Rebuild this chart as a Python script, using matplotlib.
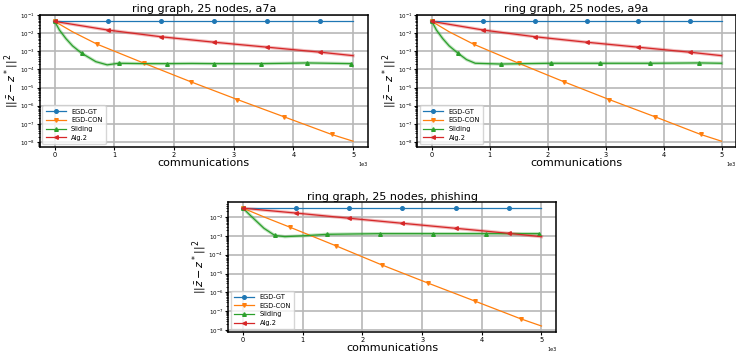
import matplotlib
matplotlib.use("Agg")
import matplotlib.pyplot as plt
import numpy as np

# ---- data (communications, error) ----
labels = ["EGD-GT", "EGD-CON", "Sliding", "Alg.2"]
titles = ["ring graph, 25 nodes, a7a", "ring graph, 25 nodes, a9a", "ring graph, 25 nodes, phishing"]

# a7a
a7a_gt_x = [0, 890, 1780, 2670, 3560, 4450, 5000]
a7a_gt_y = [4.5e-2, 4.5e-2, 4.5e-2, 4.5e-2, 4.5e-2, 4.5e-2, 4.5e-2]
a7a_con_x = [0, 300, 710, 1500, 2280, 3060, 3850, 4640, 5000]
a7a_con_y = [4.5e-2, 1.2e-2, 2.5e-3, 2.2e-4, 2.1e-5, 2.2e-6, 2.4e-7, 2.6e-8, 1.1e-8]
a7a_sl_x = [0, 80, 190, 300, 450, 690, 880, 1070, 1500, 1880, 2300, 2670, 3100, 3450, 3900, 4220, 4600, 4970]
a7a_sl_y = [4.5e-2, 1.5e-2, 5e-3, 2e-3, 8e-4, 2.7e-4, 1.8e-4, 2.2e-4, 2.1e-4, 2.1e-4, 2.15e-4, 2.1e-4,
            2.1e-4, 2.1e-4, 2.2e-4, 2.3e-4, 2.2e-4, 2.1e-4]
a7a_alg_x = [0, 890, 1780, 2670, 3560, 4450, 5000]
a7a_alg_y = [4.5e-2, 1.5e-2, 6.4e-3, 3.2e-3, 1.7e-3, 9e-4, 5.8e-4]

# a9a
a9a_gt_x = [0, 890, 1780, 2670, 3560, 4450, 5000]
a9a_gt_y = [4.5e-2, 4.5e-2, 4.5e-2, 4.5e-2, 4.5e-2, 4.5e-2, 4.5e-2]
a9a_con_x = [0, 300, 720, 1500, 2280, 3060, 3860, 4640, 5000]
a9a_con_y = [4.5e-2, 1.2e-2, 2.5e-3, 2.2e-4, 2.1e-5, 2.2e-6, 2.4e-7, 2.6e-8, 1.1e-8]
a9a_sl_x = [0, 80, 190, 300, 450, 600, 750, 1190, 1600, 2050, 2500, 2900, 3300, 3760, 4200, 4620, 5000]
a9a_sl_y = [4.5e-2, 1.5e-2, 5e-3, 2e-3, 8e-4, 3.5e-4, 2.2e-4, 2e-4, 2.1e-4, 2.2e-4, 2.2e-4, 2.2e-4,
            2.2e-4, 2.2e-4, 2.25e-4, 2.3e-4, 2.2e-4]
a9a_alg_x = [0, 890, 1780, 2670, 3560, 4450, 5000]
a9a_alg_y = [4.5e-2, 1.5e-2, 6.4e-3, 3.2e-3, 1.7e-3, 9e-4, 5.8e-4]

# phishing
ph_gt_x = [0, 890, 1780, 2670, 3560, 4450, 5000]
ph_gt_y = [2.9e-2, 2.9e-2, 2.9e-2, 2.9e-2, 2.9e-2, 2.9e-2, 2.9e-2]
ph_con_x = [0, 350, 780, 1550, 2320, 3100, 3880, 4650, 5000]
ph_con_y = [2.9e-2, 1.0e-2, 2.9e-3, 3e-4, 2.9e-5, 3.1e-6, 3.5e-7, 4e-8, 1.65e-8]
ph_sl_x = [0, 100, 200, 350, 530, 700, 1000, 1410, 1850, 2300, 2750, 3180, 3600, 4070, 4500, 4950]
ph_sl_y = [2.9e-2, 1.4e-2, 7e-3, 2.5e-3, 1.05e-3, 9e-4, 1.0e-3, 1.2e-3, 1.25e-3, 1.3e-3, 1.3e-3, 1.3e-3,
           1.3e-3, 1.3e-3, 1.3e-3, 1.3e-3]
ph_alg_x = [0, 890, 1780, 2670, 3560, 4450, 5000]
ph_alg_y = [2.9e-2, 1.6e-2, 8.5e-3, 4.6e-3, 2.5e-3, 1.35e-3, 9e-4]

# marker indices per series
a7a_marks = [[0, 1, 2, 3, 4, 5], [0, 2, 3, 4, 5, 6, 7], [0, 4, 7, 9, 11, 13, 15, 17], [0, 1, 2, 3, 4, 5]]
a9a_marks = [[0, 1, 2, 3, 4, 5], [0, 2, 3, 4, 5, 6, 7], [0, 4, 7, 9, 11, 13, 15], [0, 1, 2, 3, 4, 5]]
ph_marks = [[0, 1, 2, 3, 4, 5], [0, 2, 3, 4, 5, 6, 7], [0, 4, 7, 9, 11, 13, 15], [0, 1, 2, 3, 4, 5]]

datasets = [
    [(a7a_gt_x, a7a_gt_y), (a7a_con_x, a7a_con_y), (a7a_sl_x, a7a_sl_y), (a7a_alg_x, a7a_alg_y)],
    [(a9a_gt_x, a9a_gt_y), (a9a_con_x, a9a_con_y), (a9a_sl_x, a9a_sl_y), (a9a_alg_x, a9a_alg_y)],
    [(ph_gt_x, ph_gt_y), (ph_con_x, ph_con_y), (ph_sl_x, ph_sl_y), (ph_alg_x, ph_alg_y)],
]
all_marks = [a7a_marks, a9a_marks, ph_marks]
ylims = [(5.6e-9, 1e-1), (5.6e-9, 1e-1), None]

colors = ["#1f77b4", "#ff7f0e", "#2ca02c", "#d62728"]
markers = ["o", "v", "^", "<"]

fig = plt.figure(figsize=(7.36, 3.6), dpi=100)
positions = [
    [0.054, 0.593, 0.446, 0.365],
    [0.567, 0.593, 0.433, 0.365],
    [0.310, 0.078, 0.446, 0.360],
]


def draw_panel(ax, data, marks, title, ylim):
    for i, (x, y) in enumerate(data):
        if labels[i] in ("Sliding", "Alg.2"):
            # faint band under the noisy curves
            ax.plot(x, y, color=colors[i], lw=2.4, alpha=0.3, zorder=2)
        ax.plot(x, y, color=colors[i], lw=0.9, marker=markers[i], markersize=2.6,
                markevery=marks[i], label=labels[i], zorder=3)
    ax.set_yscale("log")
    if ylim:
        ax.set_ylim(*ylim)
    ax.grid(True, which="major", color="#b8b8b8", lw=1.2)
    ax.set_axisbelow(True)
    ax.ticklabel_format(axis="x", style="sci", scilimits=(0, 0))
    ax.xaxis.get_offset_text().set_fontsize(3.5)
    ax.tick_params(axis="x", labelsize=4.8, length=2.5, pad=1.2)
    ax.tick_params(axis="y", labelsize=4.0, length=2.5, pad=1.2)
    ax.tick_params(which="minor", length=1.2)
    ax.set_title(title, fontsize=8, pad=2)
    ax.set_xlabel("communications", fontsize=8, labelpad=0)
    ax.set_ylabel(r"$||\bar{z} - z^*||^2$", fontsize=8)
    ax.yaxis.set_label_coords(-0.058, 0.5)
    for s in ax.spines.values():
        s.set_linewidth(1.1)
    ax.legend(loc="lower left", fontsize=4.8, handlelength=3.0, borderaxespad=0.4,
              labelspacing=0.4, borderpad=0.5)


for k in range(3):
    ax = fig.add_axes(positions[k])
    draw_panel(ax, datasets[k], all_marks[k], titles[k], ylims[k])

fig.savefig("out.png", dpi=100)
